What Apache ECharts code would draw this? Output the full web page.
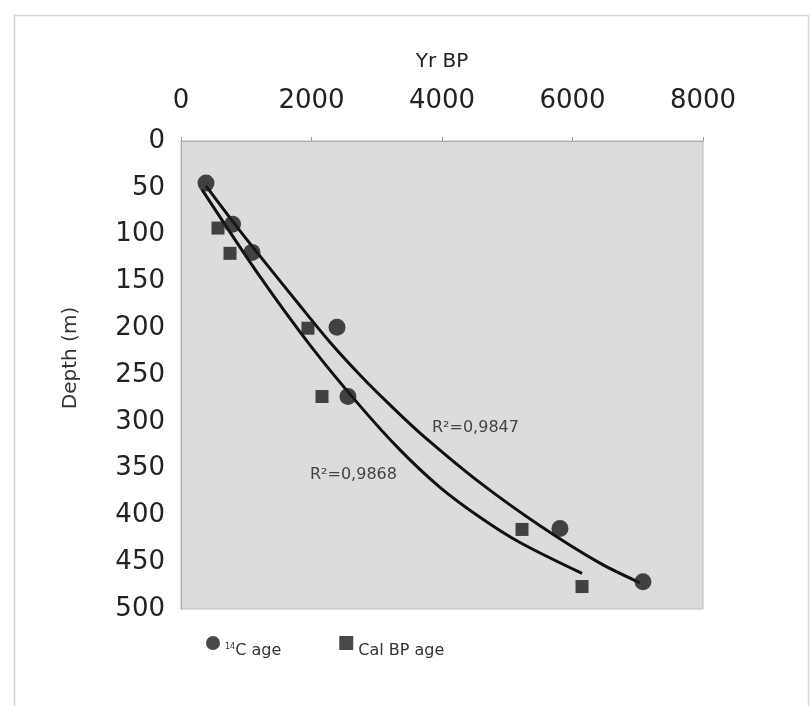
<!DOCTYPE html>
<html>
<head>
<meta charset="utf-8">
<script src="https://cdn.jsdelivr.net/npm/echarts@6/dist/echarts.min.js"></script>
<style>
    html, body { margin: 0; padding: 0; background: #fff; }
    #depth_chart { width: 810px; height: 706px; }
</style>
</head>
<body>
<div id="depth_chart"></div>
<script>
// 14C ages (yr BP) and depth (m)
const c14Age = [383, 790, 1088, 2391, 2559, 5808, 7080];
const c14Depth = [45, 89, 119, 199, 273, 414, 471];

// calibrated ages
const calAge = [567, 751, 1946, 2161, 5226, 6146];
const calDepth = [93, 120, 200, 273, 415, 476];

// trend lines
const c14TrendAge = [383, 904, 1824, 2284, 2743, 3203, 3663, 4582, 5502, 6421, 7034];
const c14TrendDepth = [48, 96, 176, 215, 250, 282, 312, 365, 411, 451, 472];
const calTrendAge = [322, 1211, 1977, 2743, 3356, 3969, 4582, 5195, 6146];
const calTrendDepth = [52, 145, 218, 283, 330, 370, 402, 429, 462];

const xTicks = [0, 2000, 4000, 6000, 8000];
const yTicks = [0, 50, 100, 150, 200, 250, 300, 350, 400, 450, 500];

const zip = (a, b) => a.map((v, i) => [v, b[i]]);

const font = 'DejaVu Sans';
const chart = echarts.init(document.getElementById('depth_chart'));

const option = {
    backgroundColor: '#fff',
    animation: false,
    textStyle: { fontFamily: font },
    grid: {
        left: 181, right: 107, top: 141, bottom: 97,
        show: true,
        backgroundColor: '#dcdcdc',
        borderColor: '#bdbdbd',
        borderWidth: 1
    },
    xAxis: {
        type: 'value',
        position: 'top',
        min: xTicks[0],
        max: xTicks[xTicks.length - 1],
        interval: 2000,
        name: 'Yr BP',
        nameLocation: 'middle',
        nameGap: 69,
        nameTextStyle: { fontSize: 20, color: '#222', fontFamily: font },
        axisLine: { show: true, lineStyle: { color: '#aaa' } },
        axisTick: { show: true, length: 4, lineStyle: { color: '#999' } },
        axisLabel: { fontSize: 26, color: '#222', margin: 27, fontFamily: font, formatter: v => String(v) },
        splitLine: { show: false }
    },
    yAxis: {
        type: 'value',
        inverse: true,
        min: yTicks[0],
        max: yTicks[yTicks.length - 1],
        interval: 50,
        name: 'Depth (m)',
        nameLocation: 'middle',
        nameGap: 100,
        nameTextStyle: { fontSize: 20, color: '#333', fontFamily: font, padding: [0, 0, 0, 34] },
        axisLine: { show: true, lineStyle: { color: '#aaa' } },
        axisTick: { show: false },
        axisLabel: { fontSize: 26, color: '#222', margin: 16, fontFamily: font },
        splitLine: { show: false }
    },
    legend: {
        left: 201,
        top: 631,
        itemWidth: 14,
        itemHeight: 14,
        itemGap: 58,
        data: [
            { name: '14C age', icon: 'circle' },
            { name: 'Cal BP age', icon: 'rect' }
        ],
        formatter: name => name === '14C age' ? '{sup|14}{t|C age}' : '{t|Cal BP age}',
        textStyle: {
            color: '#333',
            fontFamily: font,
            padding: [16, 0, 0, 0],
            rich: {
                sup: { fontSize: 8, color: '#333', padding: [0, 0, 8, 0], fontFamily: font },
                t: { fontSize: 16, color: '#333', fontFamily: font }
            }
        }
    },
    series: [
        {
            name: '14C trend',
            type: 'line',
            data: zip(c14TrendAge, c14TrendDepth),
            smooth: 0.3,
            showSymbol: false,
            lineStyle: { color: '#111', width: 3 },
            z: 2
        },
        {
            name: 'Cal trend',
            type: 'line',
            data: zip(calTrendAge, calTrendDepth),
            smooth: 0.3,
            showSymbol: false,
            lineStyle: { color: '#111', width: 3 },
            z: 2
        },
        {
            name: '14C age',
            type: 'scatter',
            data: zip(c14Age, c14Depth),
            symbol: 'circle',
            symbolSize: 17,
            itemStyle: { color: '#1a1a1a' },
            z: 3
        },
        {
            name: 'Cal BP age',
            type: 'scatter',
            data: zip(calAge, calDepth),
            symbol: 'rect',
            symbolSize: 13,
            itemStyle: { color: '#1a1a1a' },
            z: 3
        }
    ],
    graphic: [
        {
            type: 'rect',
            left: 12, top: 13,
            shape: { width: 794, height: 700 },
            style: { fill: 'none', stroke: '#d4d4d4', lineWidth: 1.5 },
            silent: true,
            z: -1
        },
        {
            type: 'text',
            left: 432, top: 420,
            style: { text: 'R²=0,9847', fontSize: 16, fill: '#444', fontFamily: font }
        },
        {
            type: 'text',
            left: 310, top: 467,
            style: { text: 'R²=0,9868', fontSize: 16, fill: '#444', fontFamily: font }
        }
    ]
};

chart.setOption(option);
</script>
</body>
</html>
